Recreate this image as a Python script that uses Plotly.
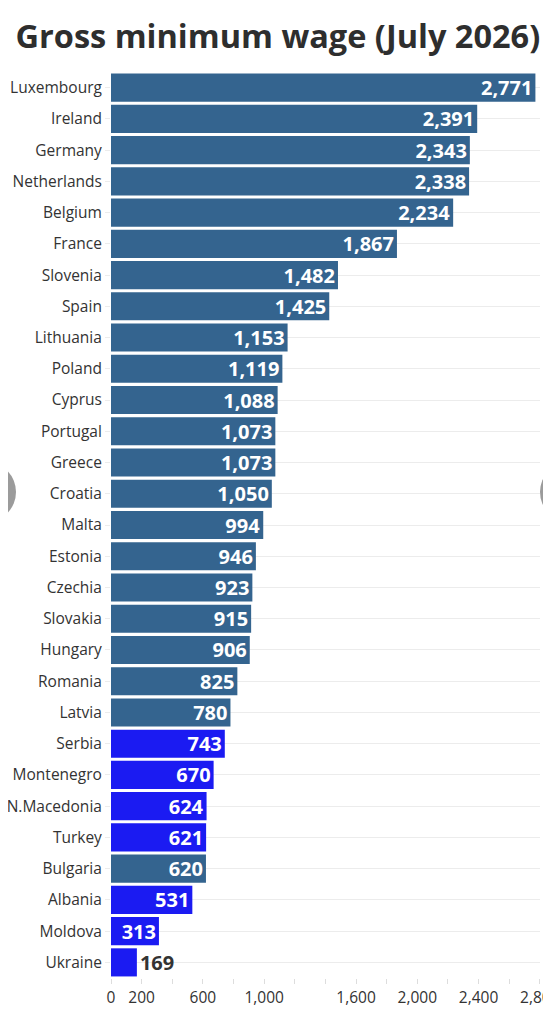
import plotly.graph_objects as go

# gross minimum wage, July 2026 (EUR / month)
countries = ['Luxembourg', 'Ireland', 'Germany', 'Netherlands', 'Belgium', 'France',
             'Slovenia', 'Spain', 'Lithuania', 'Poland', 'Cyprus', 'Portugal', 'Greece',
             'Croatia', 'Malta', 'Estonia', 'Czechia', 'Slovakia', 'Hungary', 'Romania',
             'Latvia', 'Serbia', 'Montenegro', 'N.Macedonia', 'Turkey', 'Bulgaria',
             'Albania', 'Moldova', 'Ukraine']
wages = [2771, 2391, 2343, 2338, 2234, 1867, 1482, 1425, 1153, 1119, 1088, 1073, 1073,
         1050, 994, 946, 923, 915, 906, 825, 780, 743, 670, 624, 621, 620, 531, 313, 169]
non_eu = ['Serbia', 'Montenegro', 'N.Macedonia', 'Turkey', 'Albania', 'Moldova', 'Ukraine']

tick_vals = list(range(0, 3000, 200))
tick_labels = ['0', '200', '', '600', '', '1,000', '', '', '1,600', '', '2,000', '', '2,400', '', '2,800']

EU_BLUE = '#34648f'
NON_EU_BLUE = '#1b1bf2'
TXT = '#333333'

colors = [NON_EU_BLUE if c in non_eu else EU_BLUE for c in countries]
positions = ['outside' if v < 200 else 'inside' for v in wages]

# the page body has an 8px margin, so the figure is a bit smaller than the window
W, H = 543, 1008
L, R, T, B = 103, 11, 64, 38

fig = go.Figure(go.Bar(
    x=wages, y=countries, orientation='h',
    marker=dict(color=colors, line=dict(width=0)),
    text=[f'{v:,}' for v in wages],
    textposition=positions,
    insidetextanchor='end',
    constraintext='none',
    insidetextfont=dict(family='Open Sans', size=20, color='white', weight='bold'),
    outsidetextfont=dict(family='Open Sans', size=20, color=TXT, weight='bold'),
    cliponaxis=False,
))


def px_to_paper(x, y):
    # figure pixel -> paper coords (for the carousel arrows)
    return (x - L) / (W - L - R), (H - B - y) / (H - T - B)


# grey carousel buttons at both edges of the screenshot
shapes = []
for cx in (-22, 562):
    x0, y0 = px_to_paper(cx - 30, 514)
    x1, y1 = px_to_paper(cx + 30, 454)
    shapes.append(dict(type='circle', xref='paper', yref='paper', x0=x0, x1=x1, y0=y0, y1=y1,
                       fillcolor='#9b9b9b', line=dict(width=0), layer='above'))

fig.update_layout(
    width=W, height=H,
    margin=dict(l=L, r=R, t=T, b=B, autoexpand=False),
    paper_bgcolor='white', plot_bgcolor='white',
    font=dict(family='Open Sans', color=TXT),
    title=dict(text='<b>Gross minimum wage (July 2026)</b>', x=0.497, xref='container',
               y=0.972, yref='container', yanchor='middle', xanchor='center',
               font=dict(size=32.5, color='#2e2e2e')),
    bargap=0.1,
    showlegend=False,
    shapes=shapes,
    xaxis=dict(range=[0, 2801], tickvals=tick_vals, ticktext=tick_labels,
               showgrid=False, zeroline=False, showline=False, automargin=False,
               ticks='outside', ticklen=5, tickcolor='#dddddd', ticklabeloverflow='allow',
               tickfont=dict(size=15.5, color=TXT)),
    yaxis=dict(autorange='reversed', showgrid=True, gridcolor='#ececec', gridwidth=1,
               ticks='outside', ticklen=5, tickcolor='#ececec', automargin=False,
               zeroline=False, showline=False,
               tickfont=dict(size=15.5, color=TXT)),
)

fig.write_html('out.html')
